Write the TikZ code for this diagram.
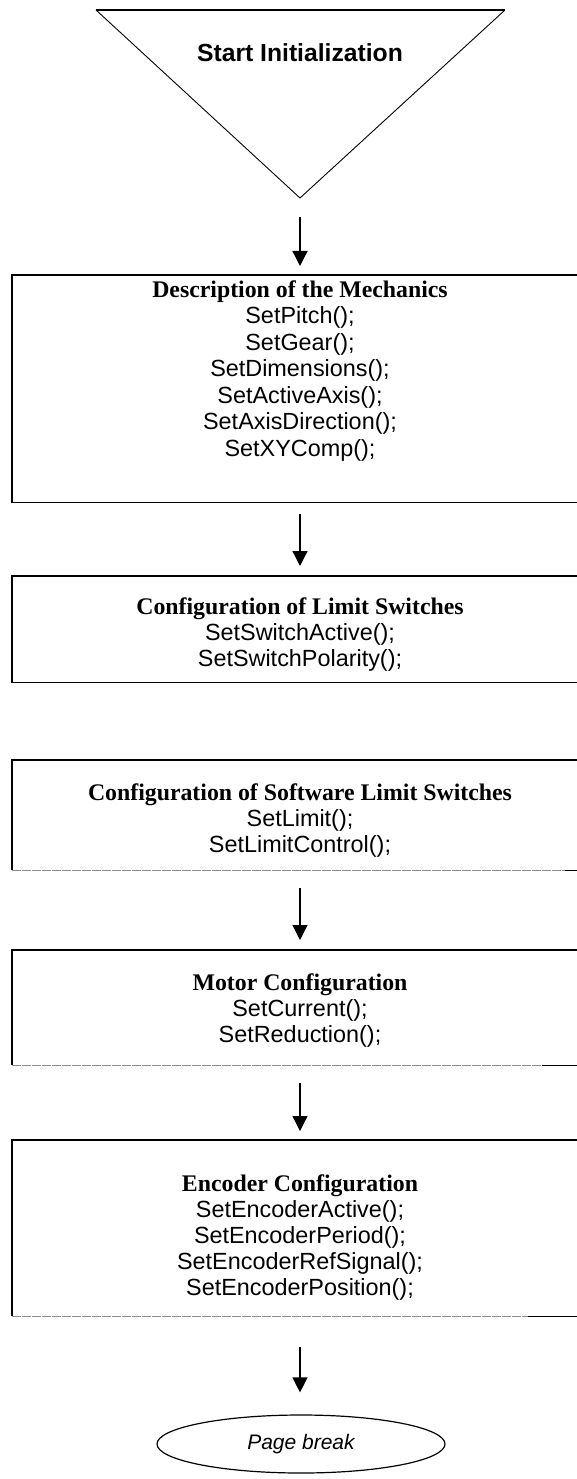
\documentclass[tikz,border=0pt]{standalone}
\usepackage{fontspec}
\setmainfont{Liberation Serif}
\setsansfont{Liberation Sans}
\usetikzlibrary{arrows.meta,shapes.geometric}
\begin{document}
\begin{tikzpicture}[x=1pt,y=-1pt,
  boxline/.style={line width=1.6pt},
  area/.style={inner sep=0pt, draw=none, anchor=north west, minimum width=565pt},
  title/.style={anchor=base, font=\rmfamily\bfseries\fontsize{23.8}{26}\selectfont, inner sep=0pt},
  body/.style={anchor=base, font=\sffamily\fontsize{23.4}{26}\selectfont, inner sep=0pt},
  arr/.style={line width=1.3pt, -{Triangle[length=15pt,width=15pt]}},
  grayline/.style={line width=1.4pt, color=black!45, dash pattern=on 9pt off 1pt}]
\useasboundingbox (0,0) rectangle (577,1479);
% start triangle
\coordinate (tl) at (96,10);
\coordinate (tr) at (505,10);
\coordinate (apex) at (300,198);
\coordinate (axis) at (300,0);
\draw[line width=0.9pt] (tl) -- (apex) -- (tr);
\draw[line width=1.4pt] (tl) -- (tr);
\node[anchor=base, inner sep=0pt, font=\sffamily\bfseries\fontsize{24.7}{28}\selectfont] (start) at (300,62) {Start Initialization};
% box areas
\node[area, minimum height=227pt] (box1) at (12,275) {};
\node[area, minimum height=106pt] (box2) at (12,576) {};
\node[area, minimum height=110pt] (box3) at (12,760) {};
\node[area, minimum height=115pt] (box4) at (12,950) {};
\node[area, minimum height=176pt] (box5) at (12,1140) {};
% box outlines (open on the right)
\draw[boxline] (box1.north east) -- (box1.north west) -- (box1.south west) -- (box1.south east);
\draw[boxline] (box2.north east) -- (box2.north west) -- (box2.south west) -- (box2.south east);
\draw[boxline] (box3.north east) -- (box3.north west) -- (box3.south west);
\draw[grayline] (box3.south west) -- ++(553,0);
\draw[boxline] (box3.south east) -- ++(-12,0);
\draw[boxline] (box4.north east) -- (box4.north west) -- (box4.south west);
\draw[grayline] (box4.south west) -- ++(530,0);
\draw[boxline] (box4.south east) -- ++(-35,0);
\draw[boxline] (box5.north east) -- (box5.north west) -- (box5.south west);
\draw[grayline] (box5.south west) -- ++(516,0);
\draw[boxline] (box5.south east) -- ++(-49,0);
% box 1 text
\node[title] (t1) at (300,297) {Description of the Mechanics};
\node[body] (l1a) at (300,323.5) {SetPitch();};
\node[body] (l1b) at (300,350) {SetGear();};
\node[body] (l1c) at (300,376.5) {SetDimensions();};
\node[body] (l1d) at (300,403) {SetActiveAxis();};
\node[body] (l1e) at (300,429.5) {SetAxisDirection();};
\node[body] (l1f) at (300,456) {SetXYComp();};
% box 2 text
\node[title] (t2) at (300,614) {Configuration of Limit Switches};
\node[body] (l2a) at (300,640) {SetSwitchActive();};
\node[body] (l2b) at (300,666) {SetSwitchPolarity();};
% box 3 text
\node[title] (t3) at (300,800) {Configuration of Software Limit Switches};
\node[body] (l3a) at (300,826) {SetLimit();};
\node[body] (l3b) at (300,852) {SetLimitControl();};
% box 4 text
\node[title] (t4) at (300,990) {Motor Configuration};
\node[body] (l4a) at (300,1016) {SetCurrent();};
\node[body] (l4b) at (300,1042) {SetReduction();};
% box 5 text
\node[title] (t5) at (300,1191) {Encoder Configuration};
\node[body] (l5a) at (300,1217) {SetEncoderActive();};
\node[body] (l5b) at (300,1243) {SetEncoderPeriod();};
\node[body] (l5c) at (300,1269) {SetEncoderRefSignal();};
\node[body] (l5d) at (300,1295) {SetEncoderPosition();};
% end ellipse
\node[ellipse, draw, line width=1.2pt, minimum width=288pt, minimum height=58pt, inner sep=0pt,
      font=\sffamily\itshape\fontsize{21}{24}\selectfont] (pb) at (301,1444) {Page break};
% arrows
\draw[arr, shorten <=19pt, shorten >=9pt] (apex) -- (box1.north -| axis);
\draw[arr, shorten <=12pt, shorten >=10pt] (box1.south -| axis) -- (box2.north -| axis);
\draw[arr, shorten <=18pt, shorten >=10pt] (box3.south -| axis) -- (box4.north -| axis);
\draw[arr, shorten <=18pt, shorten >=9pt] (box4.south -| axis) -- (box5.north -| axis);
\draw[arr, shorten <=31pt, shorten >=22pt] (box5.south -| axis) -- (pb.north -| axis);
\end{tikzpicture}
\end{document}
